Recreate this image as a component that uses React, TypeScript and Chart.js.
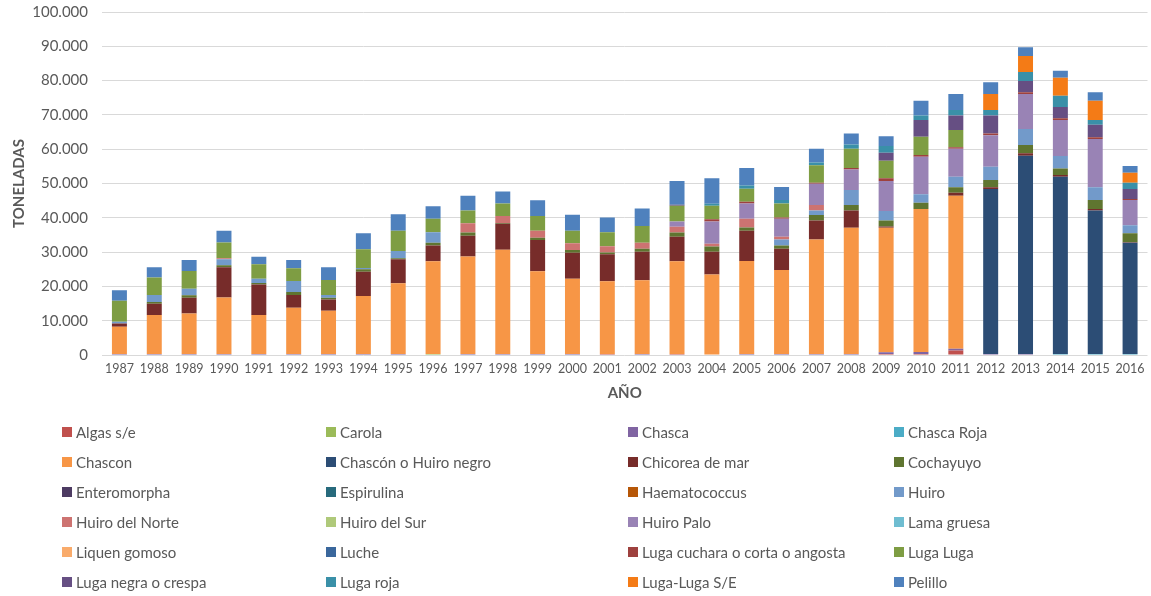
import { useEffect, useRef } from 'react';
import { Chart, registerables } from 'chart.js';

Chart.register(...registerables);

const FONT = 'Lato, "Liberation Sans", sans-serif';
const TEXT = '#595959';

const YEARS = ['1987','1988','1989','1990','1991','1992','1993','1994','1995','1996','1997','1998','1999','2000','2001','2002','2003','2004','2005','2006','2007','2008','2009','2010','2011','2012','2013','2014','2015','2016'];
const Y_TICKS = [0, 10000, 20000, 30000, 40000, 50000, 60000, 70000, 80000, 90000, 100000];

const ALGAS_SE = [0,0,0,0,0,0,0,0,0,0,0,0,0,0,300,0,300,0,0,0,0,0,300,300,1300,0,0,0,0,0];
const CAROLA = [0,0,0,0,0,0,0,0,0,300,0,0,0,0,0,0,0,0,0,0,0,0,0,0,0,0,0,0,0,0];
const CHASCA = [300,300,300,300,300,300,300,300,300,0,300,300,300,300,0,300,0,0,300,300,300,300,500,600,500,300,300,0,0,0];
const CHASCA_ROJA = [0,0,0,0,0,0,0,0,0,0,0,0,0,0,0,0,0,0,0,0,0,0,0,0,0,0,0,300,300,300];
const CHASCON = [7950,11360,11800,16500,11360,13500,12600,16900,20600,27000,28400,30400,24100,21900,21200,21500,27000,23500,27100,24500,33400,36800,36300,41700,44600,0,0,0,0,0];
const HUIRO_NEGRO = [0,0,0,0,0,0,0,0,0,0,0,0,0,0,0,0,0,0,0,0,0,0,0,0,0,48100,57800,51700,41800,32400];
const CHICOREA = [950,3300,4600,8800,8900,3700,3300,7100,7000,4600,6100,7600,9100,7600,7900,8300,7200,6600,8800,6200,5500,5000,400,0,900,500,700,500,500,200];
const COCHAYUYO = [0,500,700,600,400,900,500,700,300,800,900,200,700,800,500,900,1200,1500,1000,900,1600,1600,1700,1800,1600,2100,2400,1900,2600,2600];
const ENTEROMORPHA = [0,0,0,0,0,0,0,0,0,0,0,0,0,0,0,0,0,0,0,0,0,0,0,0,0,0,0,0,0,0];
const ESPIRULINA = [0,0,0,0,0,0,0,0,0,0,0,0,0,0,0,0,0,0,0,0,0,0,0,0,0,0,0,0,0,0];
const HAEMATOCOCCUS = [0,0,0,0,0,0,0,0,0,0,0,0,0,0,0,0,0,0,0,0,0,0,0,0,0,0,0,0,0,0];
const HUIRO = [500,2050,1900,1700,1300,3200,800,400,2100,3100,0,0,0,0,0,0,0,0,0,1800,1300,4400,2800,2500,3100,3900,4700,3600,3700,2300];
const HUIRO_NORTE = [0,0,0,300,0,0,0,0,0,0,2700,2000,2000,2000,1800,1700,1700,800,2500,800,1600,0,0,0,0,0,0,0,0,0];
const HUIRO_SUR = [0,0,0,0,0,0,0,0,0,0,0,0,0,0,0,0,0,0,0,0,0,0,0,0,0,0,0,0,0,0];
const HUIRO_PALO = [0,0,0,0,0,0,0,0,0,0,0,0,0,0,0,0,1500,6500,4500,5200,6200,6000,8700,10900,8100,9200,10200,10500,14100,7400];
const LAMA_GRUESA = [0,0,0,0,0,0,0,0,0,0,0,0,0,0,0,0,0,0,0,0,0,0,0,0,0,0,0,0,0,0];
const LIQUEN = [0,0,0,0,0,0,0,0,0,0,0,0,0,0,0,0,0,0,0,0,0,0,0,0,0,0,0,0,0,0];
const LUCHE = [0,0,0,0,0,0,0,0,0,0,0,0,0,0,0,0,0,0,0,0,0,0,0,0,0,0,0,0,0,0];
const LUGA_CUCHARA = [0,0,0,0,0,0,0,0,0,0,0,0,0,0,0,0,0,700,500,400,300,400,800,500,500,500,500,500,500,300];
const LUGA_LUGA = [6100,5100,5200,4600,4200,3700,4400,5400,5900,3900,3700,3700,4300,3600,4100,4900,4600,3900,3800,4100,5100,5600,5100,5300,5000,0,0,0,0,0];
const LUGA_NEGRA = [0,0,0,0,0,0,0,0,0,0,0,0,0,0,0,0,300,0,0,0,0,0,2400,4900,4200,5200,3300,3300,3600,2900];
const LUGA_ROJA = [0,0,0,0,0,0,0,0,0,0,0,0,0,0,0,0,0,600,900,1000,800,1300,1900,1300,1600,1600,2600,3300,1400,1800];
const LUGA_SE = [0,0,0,0,0,0,0,0,0,0,0,0,0,0,0,0,0,0,0,0,0,0,0,0,0,4700,4700,5200,5600,2900];
const PELILLO = [3100,3000,3200,3400,2200,2400,3700,4700,4800,3700,4300,3500,4600,4700,4300,5100,6900,7400,5100,3800,4000,3200,2900,4300,4700,3400,2500,2100,2500,2000];

const SERIES: [string, number[], string][] = [
  ['Algas s/e', ALGAS_SE, '#C0504D'],
  ['Carola', CAROLA, '#9BBB59'],
  ['Chasca', CHASCA, '#8064A2'],
  ['Chasca Roja', CHASCA_ROJA, '#4BACC6'],
  ['Chascon', CHASCON, '#F79646'],
  ['Chascón o Huiro negro', HUIRO_NEGRO, '#2C4D75'],
  ['Chicorea de mar', CHICOREA, '#772C2A'],
  ['Cochayuyo', COCHAYUYO, '#5F7530'],
  ['Enteromorpha', ENTEROMORPHA, '#4D3B62'],
  ['Espirulina', ESPIRULINA, '#276A7C'],
  ['Haematococcus', HAEMATOCOCCUS, '#B65708'],
  ['Huiro', HUIRO, '#729ACA'],
  ['Huiro del Norte', HUIRO_NORTE, '#CD7371'],
  ['Huiro del Sur', HUIRO_SUR, '#AFC97A'],
  ['Huiro Palo', HUIRO_PALO, '#9983B5'],
  ['Lama gruesa', LAMA_GRUESA, '#6FBDD1'],
  ['Liquen gomoso', LIQUEN, '#F9AB6B'],
  ['Luche', LUCHE, '#3A679C'],
  ['Luga cuchara o corta o angosta', LUGA_CUCHARA, '#9E413E'],
  ['Luga Luga', LUGA_LUGA, '#7E9D43'],
  ['Luga negra o crespa', LUGA_NEGRA, '#664F83'],
  ['Luga roja', LUGA_ROJA, '#3A90A8'],
  ['Luga-Luga S/E', LUGA_SE, '#F47B16'],
  ['Pelillo', PELILLO, '#4F81BD'],
];

const LEGEND_COLS = [62, 326, 628, 894];
const LEGEND_ROWS = [432, 462, 492, 522, 552, 582];

const fmt = (v: number) => String(v).replace(/\B(?=(\d{3})+(?!\d))/g, '.');

const legendPlugin = {
  id: 'gridLegend',
  afterDraw(chart: any) {
    const ctx = chart.ctx;
    ctx.save();
    ctx.font = `15px ${FONT}`;
    ctx.textBaseline = 'middle';
    ctx.textAlign = 'left';
    chart.data.datasets.forEach((ds: any, i: number) => {
      const x = LEGEND_COLS[i % 4];
      const y = LEGEND_ROWS[Math.floor(i / 4)];
      ctx.fillStyle = ds.backgroundColor;
      ctx.fillRect(x, y - 5, 10, 10);
      ctx.fillStyle = TEXT;
      ctx.fillText(ds.label, x + 14, y + 1);
    });
    ctx.restore();
  },
};

export default function App() {
  const ref = useRef<HTMLCanvasElement>(null);
  useEffect(() => {
    document.body.style.margin = '0';
    const chart = new Chart(ref.current as HTMLCanvasElement, {
      type: 'bar',
      data: {
        labels: YEARS,
        datasets: SERIES.map(([label, data, color]) => ({
          label,
          data,
          backgroundColor: color,
          borderWidth: 0,
          categoryPercentage: 0.43,
          barPercentage: 1,
        })),
      },
      options: {
        responsive: false,
        animation: false,
        devicePixelRatio: 1,
        layout: { padding: { top: 12, right: 3.5, bottom: 194, left: 0 } },
        plugins: { legend: { display: false }, tooltip: { enabled: false } },
        scales: {
          x: {
            stacked: true,
            grid: { display: false, drawTicks: false },
            border: { display: false },
            ticks: { color: TEXT, font: { family: FONT, size: 12.5 }, padding: 6, maxRotation: 0, autoSkip: false },
            title: { display: true, text: 'AÑO', color: TEXT, font: { family: FONT, size: 15, weight: 'bold' }, padding: { top: 2, bottom: 0 } },
          },
          y: {
            stacked: true,
            min: 0,
            max: 100000,
            afterBuildTicks: (scale: any) => { scale.ticks = Y_TICKS.map((v) => ({ value: v })); },
            afterFit: (scale: any) => { scale.width = 102; scale.paddingTop = 0; scale.paddingBottom = 0; },
            grid: { color: '#d9d9d9', lineWidth: 1, drawTicks: false },
            border: { display: false },
            ticks: { color: TEXT, font: { family: FONT, size: 15 }, padding: 14, callback: (v: any) => fmt(Number(v)) },
            title: { display: true, text: 'TONELADAS', color: TEXT, font: { family: FONT, size: 15, weight: 'bold' }, padding: { top: 10, bottom: 0 } },
          },
        },
      },
      plugins: [legendPlugin],
    });
    return () => chart.destroy();
  }, []);
  return (
    <div style={{ position: 'absolute', left: 0, top: 0, width: 1151, height: 596, background: '#fff' }}>
      <canvas ref={ref} width={1151} height={596} style={{ width: 1151, height: 596, display: 'block' }} />
    </div>
  );
}
